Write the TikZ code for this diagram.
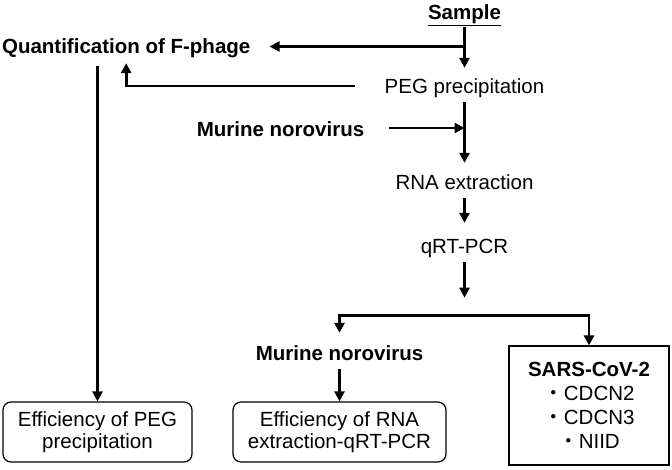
\documentclass[tikz,border=0pt]{standalone}
\usepackage{fontspec}
\setmainfont{Liberation Sans}
\newfontfamily\jpfont{Noto Sans CJK JP}
\usetikzlibrary{calc,arrows.meta,positioning}

\begin{document}
\begin{tikzpicture}[x=1pt,y=-1pt,
        txt/.style={inner sep=0pt, text height=15pt, text depth=4.5pt, anchor=base, font=\fontsize{20.5}{22}\selectfont},
        boldtxt/.style={txt, font=\fontsize{20.5}{22}\selectfont\bfseries},
        resbox/.style={draw, line width=1.2pt, rounded corners=8pt, align=center, minimum height=60pt, inner sep=0pt, font=\fontsize{20.5}{22}\selectfont},
        flow/.style={line width=2.8pt, -{Triangle[length=10pt,width=10pt]}},
        both/.style={flow, {Triangle[length=10pt,width=10pt]}-{Triangle[length=10pt,width=10pt]}}]
        \useasboundingbox (0,0) rectangle (672,469);

        % main column
        \node[boldtxt] (sample) at (464.5,19.5) {\underline{Sample}};
        \node[txt] (peg) at (464.5,93) {PEG precipitation};
        \node[txt] (rna) at (464.5,189) {RNA extraction};
        \node[txt] (qpcr) at (464.5,253) {qRT-PCR};

        % side inputs
        \node[boldtxt] (quant) at (126.2,53.5) {Quantification of F-phage};
        \node[boldtxt] (mnvadd) at (280.5,136) {Murine norovirus};
        \node[boldtxt] (mnv) at (339.5,360) {Murine norovirus};

        % results
        \node[resbox, minimum width=189pt] (effpeg) at (97.5,432) {Efficiency of PEG\\precipitation};
        \node[resbox, minimum width=213pt] (effrna) at (339.5,432) {Efficiency of RNA\\extraction-qRT-PCR};
        \node[draw, line width=1.2pt, minimum width=160pt, minimum height=119pt, align=center, inner sep=0pt,
              font=\fontsize{20.5}{24}\selectfont] (sars) at (589,405.5)
              {\textbf{SARS-CoV-2}\\{\jpfont ・}CDCN2\\{\jpfont ・}CDCN3\\{\jpfont ・}NIID};

        \coordinate (split) at (sample.base |- quant.base);
        \coordinate (drop) at (effpeg.north |- quant.south);
        \coordinate (merge) at (peg.base |- mnvadd.base);
        \coordinate (fork) at ([yshift=-40pt]qpcr.south);
        \coordinate (bar) at ([yshift=-18pt]fork);

        \draw[flow] ([yshift=-3pt]sample.south) -- ([yshift=10pt]peg.north);
        \draw[flow] ([yshift=7pt]split) -- ([xshift=19pt,yshift=7pt]quant.base east);
        \draw[flow] ([xshift=-30pt,yshift=7pt]peg.base west) -| ([yshift=-5pt]quant.south);
        \draw[flow] ([yshift=-8pt]drop) -- (effpeg.north);
        \draw[flow] ([xshift=25pt,yshift=8pt]mnvadd.base east) -- ([yshift=8pt]merge);
        \draw[flow] ([yshift=-4.5pt]peg.south) -- ([yshift=11pt]rna.north);
        \draw[flow] ([yshift=-4.5pt]rna.south) -- ([yshift=15pt]qpcr.north);
        \draw[flow] ([yshift=-4.5pt]qpcr.south) -- (fork);
        \draw[both] ([yshift=12pt]mnv.north) |- (bar) -| (sars.north);
        \draw[flow] ([yshift=-4.5pt]mnv.south) -- (effrna.north);
\end{tikzpicture}
\end{document}
